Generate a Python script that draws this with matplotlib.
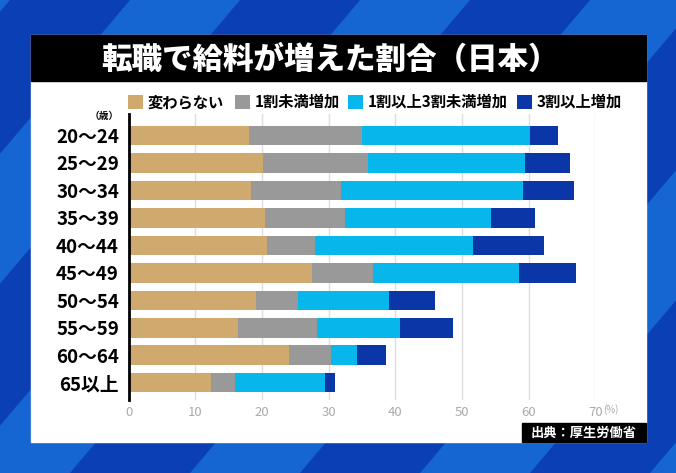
import matplotlib.pyplot as plt
from matplotlib.patches import Rectangle, Polygon
import numpy as np

plt.rcParams['font.family'] = ['Noto Sans CJK JP', 'DejaVu Sans']

# data (%)
ages = ['20～24', '25～29', '30～34', '35～39', '40～44',
        '45～49', '50～54', '55～59', '60～64', '65以上']
same = [18.1, 20.1, 18.4, 20.5, 20.7, 27.5, 19.1, 16.4, 24.0, 12.3]
under10 = [16.9, 15.8, 13.5, 11.9, 7.2, 9.2, 6.3, 11.8, 6.4, 3.6]
from10to30 = [25.2, 23.6, 27.3, 21.9, 23.8, 21.9, 13.6, 12.5, 3.9, 13.5]
over30 = [4.2, 6.7, 7.6, 6.6, 10.6, 8.5, 7.0, 7.9, 4.3, 1.5]

labels = ['変わらない', '1割未満増加', '1割以上3割未満増加', '3割以上増加']
colors = ['#cfa96e', '#999999', '#07b6ea', '#0a36a8']

fig = plt.figure(figsize=(6.76, 4.73), dpi=100)

# background in pixel coordinates
bg = fig.add_axes([0, 0, 1, 1], zorder=-1)
bg.set_xlim(0, 676)
bg.set_ylim(473, 0)
bg.axis('off')
bg.add_patch(Rectangle((0, 0), 676, 473, color='#0b3fb4'))
for x0 in range(-500, 800, 230):
    bg.add_patch(Polygon([(x0, 473), (x0 + 110, 473), (x0 + 110 + 400, 0), (x0 + 400, 0)],
                         closed=True, color='#1565d2', lw=0))
bg.add_patch(Rectangle((31, 35), 615, 407, color='white'))
bg.add_patch(Rectangle((31, 35), 615, 46, color='black'))
bg.text(330, 59, '転職で給料が増えた割合（日本）', color='white', fontsize=22,
        fontweight='black', ha='center', va='center')
bg.add_patch(Rectangle((522, 423), 124, 19, color='black'))
bg.text(584, 432.5, '出典：厚生労働省', color='white', fontsize=9.5,
        fontweight='bold', ha='center', va='center')

# legend drawn by hand
leg_x = [128, 235, 348, 517]
for lx, lab, c in zip(leg_x, labels, colors):
    bg.add_patch(Rectangle((lx, 95), 15, 14, color=c, lw=0))
    bg.text(lx + 20, 102, lab, fontsize=11, fontweight='bold', ha='left', va='center')

bg.text(119, 116, '（歳）', fontsize=7, fontweight='bold', ha='right', va='center')
bg.text(603, 410, '(%)', fontsize=7, color='#aaaaaa', ha='left', va='center')

# main chart
ax = fig.add_axes([0.1904, 0.1543, 0.6902, 0.6047])
y = np.arange(len(ages))
left = np.zeros(len(ages))
for vals, c in zip([same, under10, from10to30, over30], colors):
    ax.barh(y, vals, left=left, height=0.71, color=c, zorder=3)
    left += np.array(vals)

ax.set_xlim(0, 70)
ax.set_ylim(9.63, -0.78)
ax.set_xticks(range(0, 71, 10))
ax.set_xticklabels([str(v) for v in range(0, 71, 10)], color='#aaaaaa', fontsize=9.5)
ax.set_yticks(y)
ax.set_yticklabels(ages, fontsize=13.5, fontweight='bold')
ax.tick_params(axis='both', length=0)
ax.tick_params(axis='y', pad=7)
ax.tick_params(axis='x', pad=4)
ax.grid(axis='x', color='#dddddd', lw=1, zorder=0)
for s in ['top', 'right', 'bottom']:
    ax.spines[s].set_visible(False)
ax.spines['left'].set_linewidth(2)
ax.spines['left'].set_zorder(4)
ax.patch.set_alpha(0)

fig.savefig('out.png', dpi=100)
